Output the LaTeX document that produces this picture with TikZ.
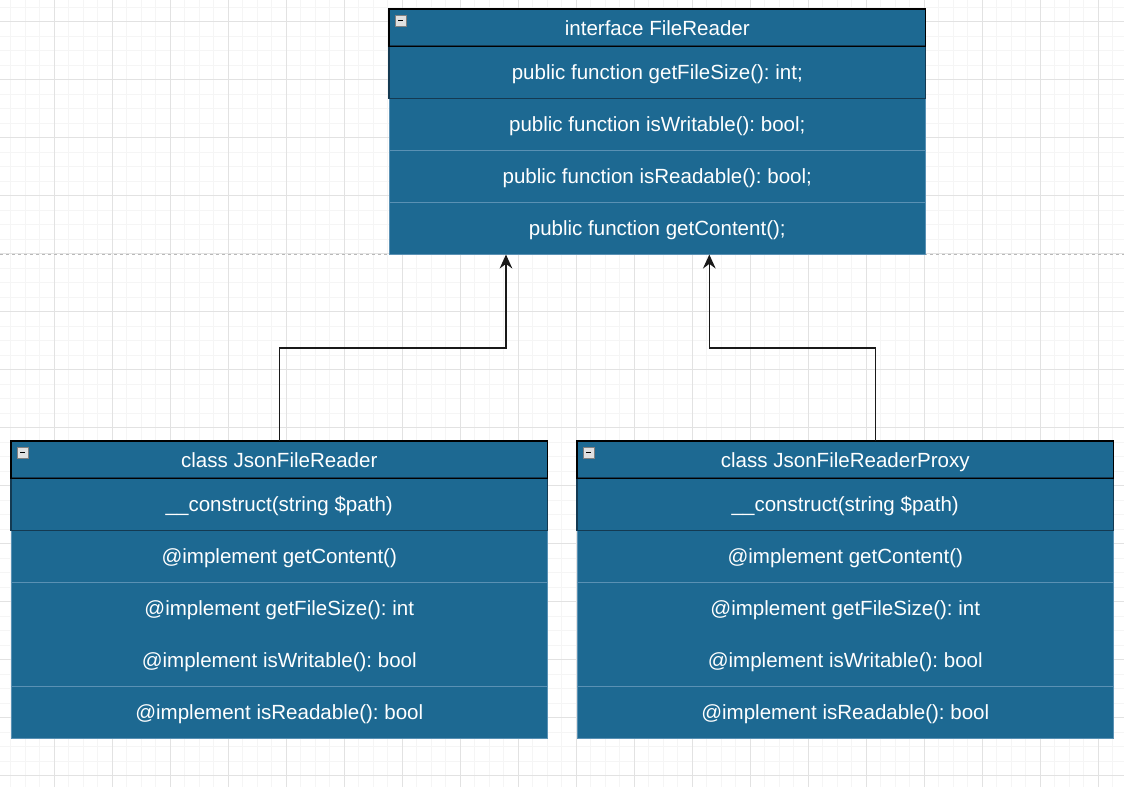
\documentclass[tikz,border=0pt]{standalone}
\usepackage{fontspec}
\setmainfont{Liberation Sans}
\usetikzlibrary{arrows.meta,calc}

\definecolor{umlblue}{RGB}{29,105,146}
\definecolor{umldark}{RGB}{20,58,82}
\definecolor{umlsep}{RGB}{90,145,180}
\definecolor{gridminor}{RGB}{245,245,245}
\definecolor{gridmajor}{RGB}{226,226,226}
\definecolor{pageline}{RGB}{185,185,185}

\begin{document}
\frenchspacing
\begin{tikzpicture}[x=0.75pt,y=-0.75pt,
        font=\fontsize{15.4}{18}\selectfont,
        head/.style={anchor=north west,inner sep=0pt,fill=umlblue,text=white,
            text height=13pt,text depth=1.5pt,
            minimum width=402pt,minimum height=27.75pt},
        row/.style={anchor=north west,inner sep=0pt,fill=umlblue,text=white,
            text height=13pt,text depth=1.5pt,
            minimum width=402pt,minimum height=39pt},
        sep/.style={draw=umlsep,line width=0.6pt},
        arr/.style={draw=black!90,line width=1.1pt,
            -{Stealth[length=10.5pt,width=9.5pt,inset=3.5pt]}}]
    \useasboundingbox (0,0) rectangle (1124,787);
    \fill[white] (0,0) rectangle (1124,787);
    %grid
        \foreach \x in {10.7,25.2,...,1124}
            \draw[gridminor,line width=0.75pt] (\x,0) -- (\x,787);
        \foreach \y in {7.2,21.7,...,787}
            \draw[gridminor,line width=0.75pt] (0,\y) -- (1124,\y);
        \foreach \x in {54.7,112.7,...,1124}
            \draw[gridmajor,line width=0.75pt] (\x,0) -- (\x,787);
        \foreach \y in {21.7,79.7,...,787}
            \draw[gridmajor,line width=0.75pt] (0,\y) -- (1124,\y);
    %page break
        \draw[pageline,line width=0.75pt,dash pattern=on 2.5pt off 2pt] (0,255) -- (1124,255);

    %interface
        \node[head] (ifaceHead) at (389,9) {interface FileReader};
        \node[row] (ifaceA) at (389,46) {public function getFileSize(): int;};
        \node[row] (ifaceB) at (389,98) {public function isWritable(): bool;};
        \node[row] (ifaceC) at (389,150) {public function isReadable(): bool;};
        \node[row] (ifaceD) at (389,202) {public function getContent();};
        \draw[sep] (ifaceB.north west) rectangle (ifaceD.south east);
        \draw[sep] (ifaceC.north west) -- (ifaceC.north east);
        \draw[sep] (ifaceD.north west) -- (ifaceD.north east);
        \draw[umldark,line width=1pt] (ifaceA.north west) rectangle (ifaceA.south east);
        \draw[black,line width=1.1pt] (ifaceHead.north west) rectangle (ifaceHead.south east);

    %class JsonFileReader
        \node[head] (jsonHead) at (11,441) {class JsonFileReader};
        \node[row] (jsonA) at (11,478) {\_\_construct(string \$path)};
        \node[row] (jsonB) at (11,530) {@implement getContent()};
        \node[row] (jsonC) at (11,582) {@implement getFileSize(): int};
        \node[row] (jsonD) at (11,634) {@implement isWritable(): bool};
        \node[row] (jsonE) at (11,686) {@implement isReadable(): bool};
        \draw[sep] (jsonB.north west) rectangle (jsonE.south east);
        \draw[sep] (jsonC.north west) -- (jsonC.north east);
        \draw[sep] (jsonE.north west) -- (jsonE.north east);
        \draw[umldark,line width=1pt] (jsonA.north west) rectangle (jsonA.south east);
        \draw[black,line width=1.1pt] (jsonHead.north west) rectangle (jsonHead.south east);

    %class JsonFileReaderProxy
        \node[head] (proxyHead) at (577,441) {class JsonFileReaderProxy};
        \node[row] (proxyA) at (577,478) {\_\_construct(string \$path)};
        \node[row] (proxyB) at (577,530) {@implement getContent()};
        \node[row] (proxyC) at (577,582) {@implement getFileSize(): int};
        \node[row] (proxyD) at (577,634) {@implement isWritable(): bool};
        \node[row] (proxyE) at (577,686) {@implement isReadable(): bool};
        \draw[sep] (proxyB.north west) rectangle (proxyE.south east);
        \draw[sep] (proxyC.north west) -- (proxyC.north east);
        \draw[sep] (proxyE.north west) -- (proxyE.north east);
        \draw[umldark,line width=1pt] (proxyA.north west) rectangle (proxyA.south east);
        \draw[black,line width=1.1pt] (proxyHead.north west) rectangle (proxyHead.south east);

    %collapse icons
        \foreach \x/\y in {395/15,17/447,583/447}{
            \draw[gray,fill=black!12,line width=0.6pt] (\x,\y) rectangle ++(11,11);
            \draw[black,line width=1.3pt] (\x+3,\y+5.5) -- ++(5,0);
        }

    %realization
        \coordinate (ifaceInL) at ($(ifaceD.south west)!0.218!(ifaceD.south east)$);
        \coordinate (ifaceInR) at ($(ifaceD.south west)!0.597!(ifaceD.south east)$);
        \coordinate (proxyOut) at ($(proxyHead.north west)!0.556!(proxyHead.north east)$);
        \draw[arr] (jsonHead.north) -- (jsonHead.north |- 0,348) -| (ifaceInL);
        \draw[arr] (proxyOut) -- (proxyOut |- 0,348) -| (ifaceInR);
\end{tikzpicture}
\end{document}
